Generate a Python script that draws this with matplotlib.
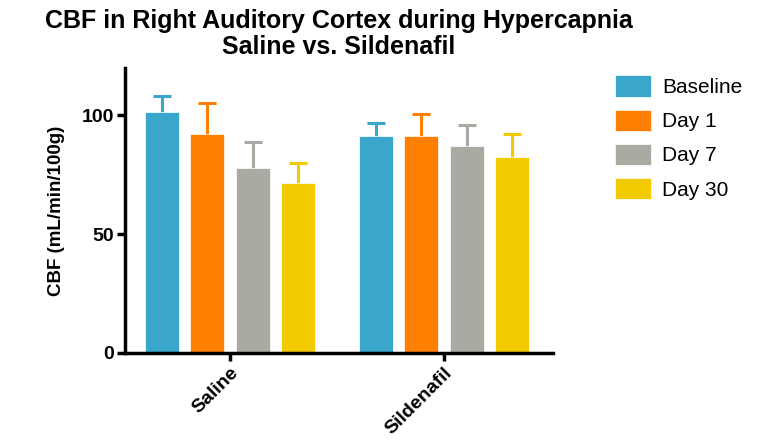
import numpy as np
import matplotlib.pyplot as plt

plt.rcParams['font.family'] = ['Liberation Sans', 'DejaVu Sans']

groups = ["Saline", "Sildenafil"]
series = ["Baseline", "Day 1", "Day 7", "Day 30"]
colors = ["#3AA6CC", "#FF7F00", "#A9ABA3", "#F2CA00"]

# mean values and error (SEM) per series, [Saline, Sildenafil]
means = {
    "Baseline": [101.4, 91.4],
    "Day 1": [92.3, 91.4],
    "Day 7": [77.9, 87.1],
    "Day 30": [71.7, 82.4],
}
errs = {
    "Baseline": [6.9, 5.4],
    "Day 1": [13.0, 9.4],
    "Day 7": [10.9, 8.7],
    "Day 30": [8.3, 9.6],
}

fig = plt.figure(figsize=(7.59, 4.47), dpi=100)
ax = fig.add_axes([0.1647, 0.2103, 0.5639, 0.6377])

x = np.arange(len(groups))
pitch = 0.2126
width = 0.159
for i, s in enumerate(series):
    pos = x + (i - 1.5) * pitch
    # error bars drawn behind the bars so only the upper half shows
    ax.errorbar(pos, means[s], yerr=errs[s], fmt="none", ecolor=colors[i],
                elinewidth=2.2, capsize=6.5, capthick=2.2, zorder=1)
    ax.bar(pos, means[s], width, color=colors[i], edgecolor="white",
           linewidth=0.5, label=s, zorder=2)

ax.set_xlim(-0.49, 1.51)
ax.set_ylim(0, 120)
ax.set_yticks([0, 50, 100])
ax.set_xticks(x)
ax.set_xticklabels(groups, rotation=45, ha="right", rotation_mode="anchor",
                   fontsize=14, fontweight="bold")
for lbl in ax.get_yticklabels():
    lbl.set_fontsize(14)
    lbl.set_fontweight("bold")

for side in ["top", "right"]:
    ax.spines[side].set_visible(False)
for side in ["left", "bottom"]:
    ax.spines[side].set_linewidth(2.5)
ax.tick_params(axis="both", width=2.5, length=6, direction="out", pad=2)

ax.set_ylabel("CBF (mL/min/100g)", fontsize=13.5, fontweight="bold", labelpad=12)
ax.set_title("CBF in Right Auditory Cortex during Hypercapnia\nSaline vs. Sildenafil",
             fontsize=18, fontweight="bold", pad=10, linespacing=1.1)

ax.legend(loc="upper left", bbox_to_anchor=(1.1, 1.04), frameon=False,
          fontsize=15, handlelength=1.75, handleheight=1.2, labelspacing=0.6,
          handletextpad=0.55)

fig.savefig("out.png", dpi=100)
